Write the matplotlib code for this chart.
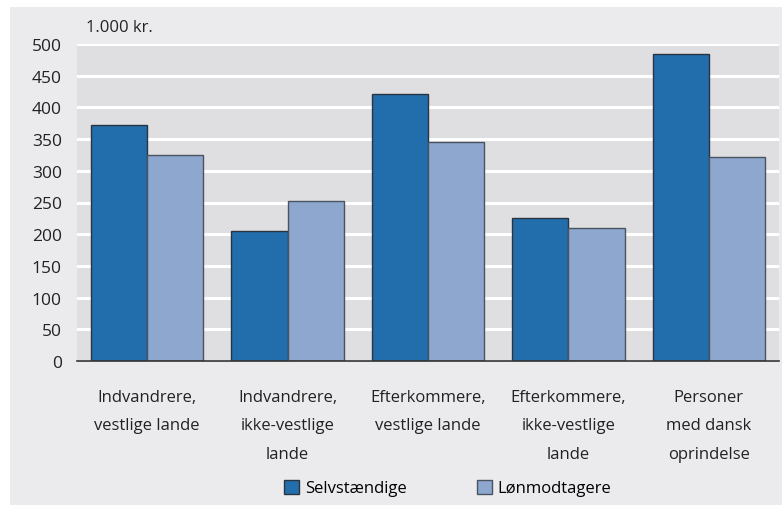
import matplotlib.pyplot as plt
import numpy as np

categories = ['Indvandrere,\nvestlige lande',
              'Indvandrere,\nikke-vestlige\nlande',
              'Efterkommere,\nvestlige lande',
              'Efterkommere,\nikke-vestlige\nlande',
              'Personer\nmed dansk\noprindelse']
selvstaendige = [372, 205, 421, 225, 485]
loenmodtagere = [325, 252, 345, 209, 322]
yticks = [0, 50, 100, 150, 200, 250, 300, 350, 400, 450, 500]

plt.rcParams['font.family'] = ['Open Sans', 'DejaVu Sans']
fs = 12

W, H = 782, 506
fig = plt.figure(figsize=(W / 100, H / 100), dpi=100, facecolor='white')

# grey panel behind the chart
bg = fig.add_axes([10 / W, 0, 1 - 10 / W, 1 - 8 / H], zorder=0)
bg.set_facecolor('#ebebed')
bg.set_xticks([])
bg.set_yticks([])
for s in bg.spines.values():
    s.set_visible(False)

ax = fig.add_axes([77 / W, 1 - 362 / H, 702 / W, 317 / H], zorder=1)
ax.set_facecolor('#dfdfe1')

x = np.arange(len(categories))
w = 0.4
ax.bar(x - w / 2, selvstaendige, w, color='#226ead', edgecolor='#2a3440', linewidth=1,
       label='Selvstændige', zorder=3)
ax.bar(x + w / 2, loenmodtagere, w, color='#8ea7cf', edgecolor='#4a5360', linewidth=1,
       label='Lønmodtagere', zorder=3)

ax.set_xlim(-0.5, len(categories) - 0.5)
ax.set_ylim(0, 500)
ax.set_yticks(yticks)
ax.yaxis.grid(True, color='white', linewidth=2.2, zorder=1)
ax.set_axisbelow(True)
for s in ['left', 'right', 'top']:
    ax.spines[s].set_visible(False)
ax.spines['bottom'].set_color('#333333')
ax.spines['bottom'].set_linewidth(1.2)
ax.spines['bottom'].set_zorder(4)
ax.tick_params(axis='y', length=0, pad=11, labelsize=fs + 0.5, labelcolor='#222222')
ax.set_xticks(x)
ax.set_xticklabels(categories, linespacing=2.05, color='#222222')
ax.tick_params(axis='x', length=0, pad=20, labelsize=fs)

fig.text(86 / W, 1 - 28 / H, '1.000 kr.', fontsize=fs, color='#222222', va='center')

ax.legend(loc='center', bbox_to_anchor=(448 / W, 1 - 489 / H), bbox_transform=fig.transFigure,
          ncol=2, frameon=False, handlelength=0.9, handleheight=0.9, handletextpad=0.35,
          columnspacing=4.2, fontsize=fs)

fig.savefig('out.png', dpi=100, facecolor='white')
